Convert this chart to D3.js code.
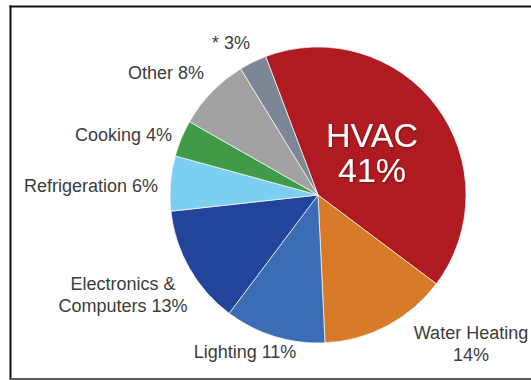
<!DOCTYPE html>
<html>
<head>
<meta charset="utf-8">
<script src="https://cdn.jsdelivr.net/npm/d3@7/dist/d3.min.js"></script>
<style>
  html, body { margin: 0; padding: 0; background: #fff; }
  svg { display: block; }
</style>
</head>
<body>
<script>
// Building energy end-use shares (%)
const categories = ["HVAC", "Water Heating", "Lighting", "Electronics & Computers",
                    "Refrigeration", "Cooking", "Other", "*"];
const values = [41, 14, 11, 13, 6, 4, 8, 3];
const colors = ["#b01b22", "#d97a29", "#3b6db4", "#23449b",
                "#7ccff0", "#3f9b47", "#a2a2a2", "#7d8696"];

// Label text lines per slice
const labelLines = [
  ["HVAC", "41%"],
  ["Water Heating", "14%"],
  ["Lighting 11%"],
  ["Electronics &", "Computers 13%"],
  ["Refrigeration 6%"],
  ["Cooking 4%"],
  ["Other 8%"],
  ["* 3%"]
];

// Label placement (anchor point, text-anchor) for each slice
const labelLayout = [
  { x: 372, y: 147, anchor: "middle", inside: true },
  { x: 471, y: 339, anchor: "middle" },
  { x: 245, y: 358, anchor: "middle" },
  { x: 123, y: 290, anchor: "middle" },
  { x: 158, y: 192, anchor: "end" },
  { x: 172, y: 141, anchor: "end" },
  { x: 204, y: 79, anchor: "end" },
  { x: 250, y: 49, anchor: "end" }
];

const W = 531, H = 380;
const cx = 318, cy = 195, R = 148;

const svg = d3.select("body").append("svg")
  .attr("width", W).attr("height", H);

const defs = svg.append("defs");
const shadow = defs.append("filter").attr("id", "txtShadow")
  .attr("x", "-20%").attr("y", "-20%").attr("width", "140%").attr("height", "140%");
shadow.append("feDropShadow")
  .attr("dx", 0.6).attr("dy", 0.8).attr("stdDeviation", 1)
  .attr("flood-color", "#3a0000").attr("flood-opacity", 0.55);

// Frame
svg.append("line").attr("x1", 9.5).attr("x2", W).attr("y1", 6.5).attr("y2", 6.5)
  .attr("stroke", "#111").attr("stroke-width", 1.8);
svg.append("line").attr("x1", 10.5).attr("x2", 10.5).attr("y1", 5.6).attr("y2", 380)
  .attr("stroke", "#111").attr("stroke-width", 2);
svg.append("line").attr("x1", 9.5).attr("x2", W).attr("y1", 379).attr("y2", 379)
  .attr("stroke", "#5a5a5a").attr("stroke-width", 2);

const data = categories.map((c, i) => ({ name: c, value: values[i], i }));

const startDeg = -20.7;
const pie = d3.pie()
  .value(d => d.value)
  .sort(null)
  .startAngle(startDeg * Math.PI / 180)
  .endAngle(startDeg * Math.PI / 180 + 2 * Math.PI);

const arc = d3.arc().innerRadius(0).outerRadius(R);

const g = svg.append("g").attr("transform", `translate(${cx},${cy})`);

g.selectAll("path.slice")
  .data(pie(data))
  .join("path")
  .attr("class", "slice")
  .attr("d", arc)
  .attr("fill", d => colors[d.data.i])
  .attr("stroke", "rgba(255,255,255,0.75)")
  .attr("stroke-width", 0.9)
  .attr("stroke-linejoin", "round");

// Labels
const font = "'Liberation Sans', Arial, sans-serif";
labelLines.forEach((lines, i) => {
  const L = labelLayout[i];
  const inside = !!L.inside;
  const t = svg.append("text")
    .attr("x", L.x).attr("y", L.y)
    .attr("text-anchor", L.anchor)
    .attr("font-family", font)
    .attr("font-size", inside ? 34 : 18)
    .attr("fill", inside ? "#ffffff" : "#3c3c3c")
    .attr("filter", inside ? "url(#txtShadow)" : null);
  lines.forEach((line, k) => {
    t.append("tspan")
      .attr("x", L.x)
      .attr("dy", k === 0 ? 0 : (inside ? 35 : 22))
      .text(line);
  });
});
</script>
</body>
</html>
